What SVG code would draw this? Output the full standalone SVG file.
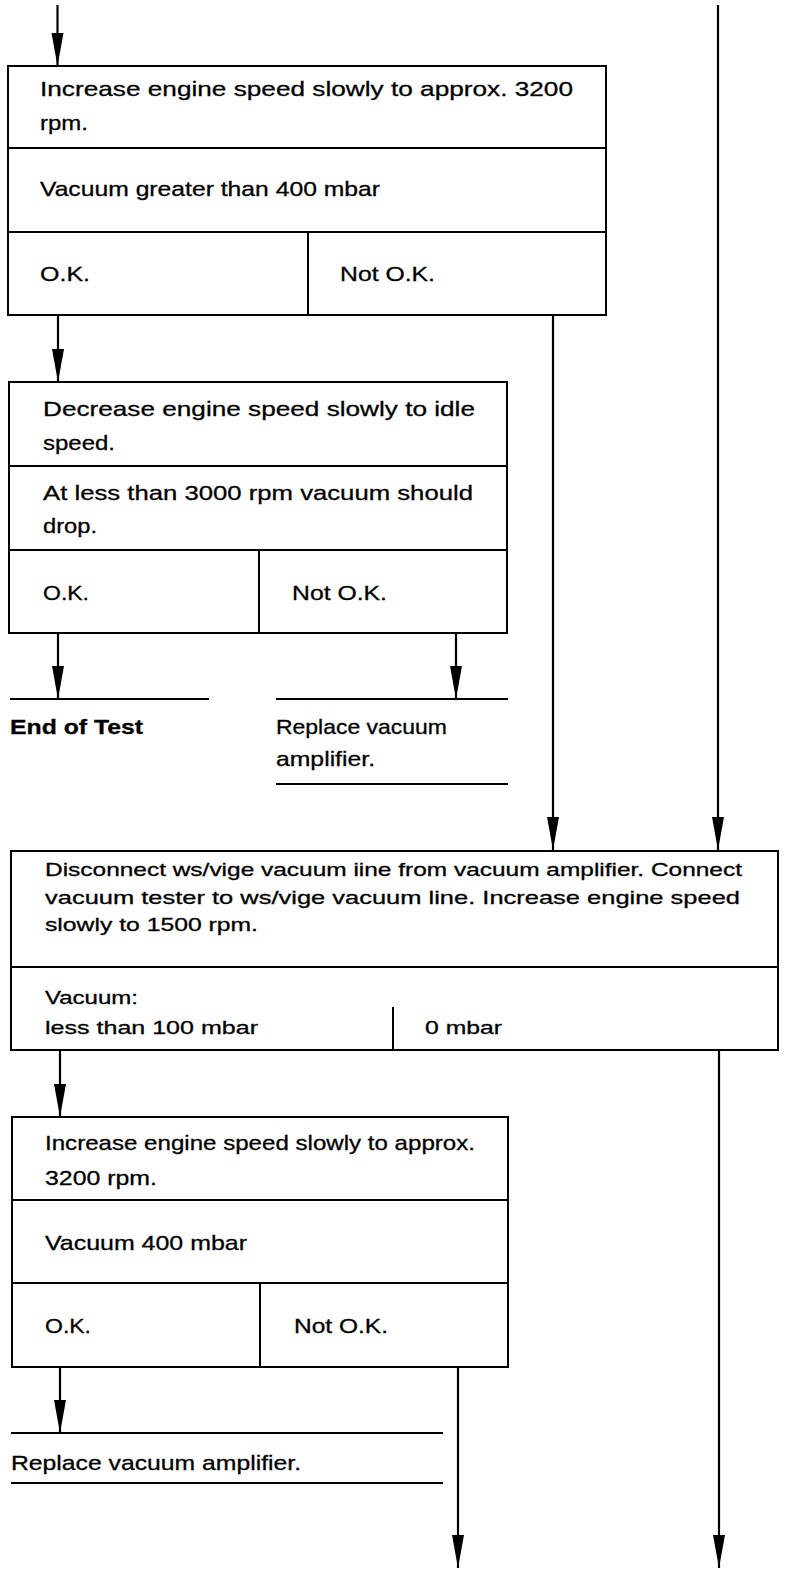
<svg xmlns="http://www.w3.org/2000/svg" width="800" height="1576" viewBox="0 0 800 1576">
<style>
.bg{fill:#fff}
.box{fill:#fff;stroke:#000;stroke-width:2}
.ln{stroke:#000;stroke-width:2;fill:none}
.t{font-family:"Liberation Sans",Arial,sans-serif;font-size:21px;fill:#000;stroke:#000;stroke-width:0.3}
.s{font-size:19px}
.b{font-weight:bold}
.c{stroke:#000;stroke-width:2.2;fill:none;marker-end:url(#ah)}
</style>
<defs>
<marker id="ah" markerUnits="userSpaceOnUse" viewBox="0 -7 34 14" refX="33" refY="0" markerWidth="34" markerHeight="14" orient="auto">
<path d="M0,-6 L33,0 L0,6 z" fill="#000"/>
</marker>
</defs>
<rect class="bg" x="0" y="0" width="800" height="1576"/>

<g id="connectors">
<line class="c" x1="57.5" y1="5" x2="57.5" y2="66"/>
<line class="c" x1="718" y1="5" x2="718" y2="850"/>
<line class="c" x1="553" y1="315" x2="553" y2="850"/>
<line class="c" x1="58" y1="315" x2="58" y2="382"/>
<line class="c" x1="58" y1="633" x2="58" y2="699"/>
<line class="c" x1="456" y1="633" x2="456" y2="699"/>
<line class="c" x1="60" y1="1050" x2="60" y2="1117"/>
<line class="c" x1="719" y1="1050" x2="719" y2="1568"/>
<line class="c" x1="60" y1="1367" x2="60" y2="1433"/>
<line class="c" x1="458" y1="1367" x2="458" y2="1568"/>
</g>

<g id="box1">
<rect class="box" x="8" y="66" width="598" height="249"/>
<line class="ln" x1="8" y1="148" x2="606" y2="148"/>
<line class="ln" x1="8" y1="232" x2="606" y2="232"/>
<line class="ln" x1="308" y1="232" x2="308" y2="315"/>
<text class="t" x="40" y="96" textLength="533" lengthAdjust="spacingAndGlyphs">Increase engine speed slowly to approx. 3200</text>
<text class="t" x="40" y="130" textLength="48" lengthAdjust="spacingAndGlyphs">rpm.</text>
<text class="t" x="40" y="196" textLength="340" lengthAdjust="spacingAndGlyphs">Vacuum greater than 400 mbar</text>
<text class="t" x="40" y="281" textLength="50" lengthAdjust="spacingAndGlyphs">O.K.</text>
<text class="t" x="340" y="281" textLength="95" lengthAdjust="spacingAndGlyphs">Not O.K.</text>
</g>

<g id="box2">
<rect class="box" x="9" y="382" width="498" height="251"/>
<line class="ln" x1="9" y1="466" x2="507" y2="466"/>
<line class="ln" x1="9" y1="550" x2="507" y2="550"/>
<line class="ln" x1="259" y1="550" x2="259" y2="633"/>
<text class="t" x="43" y="416" textLength="432" lengthAdjust="spacingAndGlyphs">Decrease engine speed slowly to idle</text>
<text class="t" x="43" y="450" textLength="72" lengthAdjust="spacingAndGlyphs">speed.</text>
<text class="t" x="43" y="500" textLength="430" lengthAdjust="spacingAndGlyphs">At less than 3000 rpm vacuum should</text>
<text class="t" x="43" y="533" textLength="54" lengthAdjust="spacingAndGlyphs">drop.</text>
<text class="t" x="43" y="600" textLength="46" lengthAdjust="spacingAndGlyphs">O.K.</text>
<text class="t" x="292" y="600" textLength="95" lengthAdjust="spacingAndGlyphs">Not O.K.</text>
</g>

<g id="end-of-test">
<line class="ln" x1="10" y1="699" x2="209" y2="699"/>
<text class="t b" x="10" y="734" textLength="133" lengthAdjust="spacingAndGlyphs">End of Test</text>
</g>

<g id="replace1">
<line class="ln" x1="276" y1="699" x2="508" y2="699"/>
<text class="t" x="276" y="734" textLength="171" lengthAdjust="spacingAndGlyphs">Replace vacuum</text>
<text class="t" x="276" y="766" textLength="99" lengthAdjust="spacingAndGlyphs">amplifier.</text>
<line class="ln" x1="276" y1="784" x2="508" y2="784"/>
</g>

<g id="box3">
<rect class="box" x="11" y="851" width="767" height="199"/>
<line class="ln" x1="11" y1="967" x2="778" y2="967"/>
<line class="ln" x1="393" y1="1007" x2="393" y2="1050"/>
<text class="t s" x="45" y="876" textLength="697" lengthAdjust="spacingAndGlyphs">Disconnect ws/vige vacuum iine from vacuum amplifier. Connect</text>
<text class="t s" x="45" y="904" textLength="695" lengthAdjust="spacingAndGlyphs">vacuum tester to ws/vige vacuum line. Increase engine speed</text>
<text class="t s" x="45" y="931" textLength="213" lengthAdjust="spacingAndGlyphs">slowly to 1500 rpm.</text>
<text class="t s" x="45" y="1004" textLength="93" lengthAdjust="spacingAndGlyphs">Vacuum:</text>
<text class="t s" x="45" y="1034" textLength="213" lengthAdjust="spacingAndGlyphs">less than 100 mbar</text>
<text class="t s" x="425" y="1034" textLength="77" lengthAdjust="spacingAndGlyphs">0 mbar</text>
</g>

<g id="box4">
<rect class="box" x="12" y="1117" width="496" height="250"/>
<line class="ln" x1="12" y1="1200" x2="508" y2="1200"/>
<line class="ln" x1="12" y1="1283" x2="508" y2="1283"/>
<line class="ln" x1="260" y1="1283" x2="260" y2="1367"/>
<text class="t" x="45" y="1150" textLength="430" lengthAdjust="spacingAndGlyphs">Increase engine speed slowly to approx.</text>
<text class="t" x="45" y="1185" textLength="112" lengthAdjust="spacingAndGlyphs">3200 rpm.</text>
<text class="t" x="45" y="1250" textLength="202" lengthAdjust="spacingAndGlyphs">Vacuum 400 mbar</text>
<text class="t" x="45" y="1333" textLength="46" lengthAdjust="spacingAndGlyphs">O.K.</text>
<text class="t" x="294" y="1333" textLength="94" lengthAdjust="spacingAndGlyphs">Not O.K.</text>
</g>

<g id="replace2">
<line class="ln" x1="11" y1="1433" x2="443" y2="1433"/>
<text class="t" x="11" y="1470" textLength="290" lengthAdjust="spacingAndGlyphs">Replace vacuum amplifier.</text>
<line class="ln" x1="11" y1="1483" x2="443" y2="1483"/>
</g>
</svg>
